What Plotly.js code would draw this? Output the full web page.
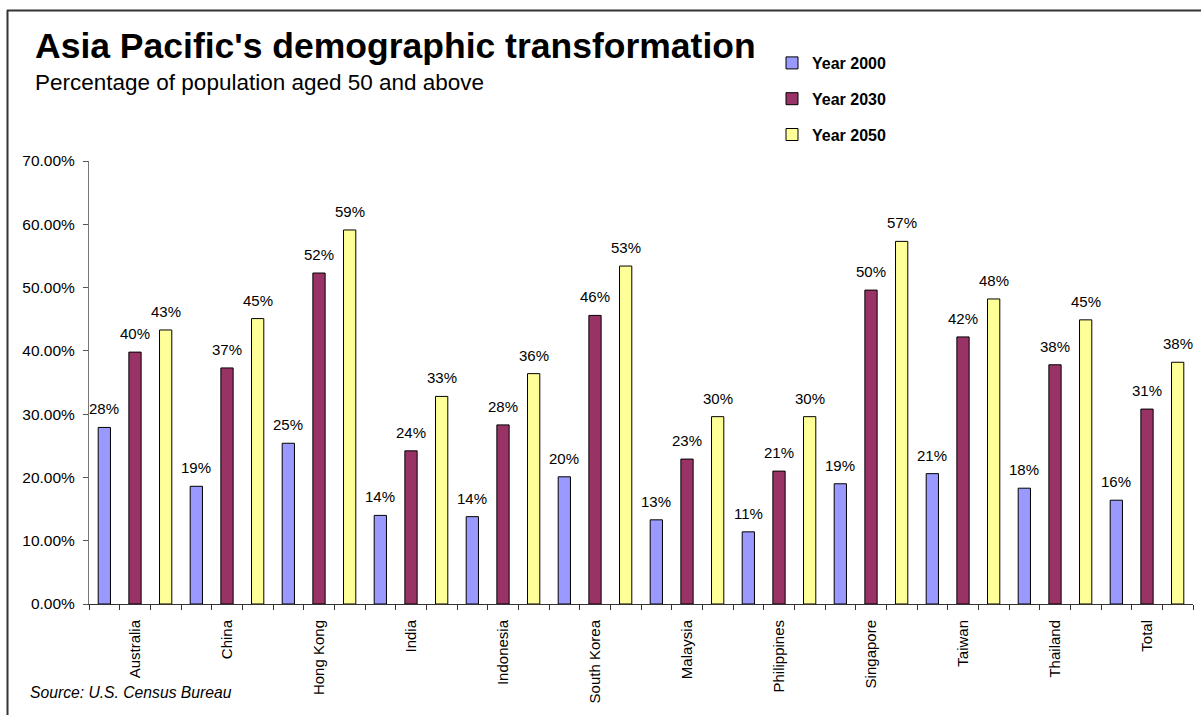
<!DOCTYPE html>
<html>
<head>
<meta charset="utf-8">
<script src="https://cdn.plot.ly/plotly-3.0.1.min.js"></script>
<style>
  html, body { margin: 0; padding: 0; background: #fff; }
  #chart { width: 1201px; height: 715px; }
</style>
</head>
<body>
<div id="chart"></div>
<script>
// ---- data ----
const countries = ["Australia", "China", "Hong Kong", "India", "Indonesia", "South Korea",
                   "Malaysia", "Philippines", "Singapore", "Taiwan", "Thailand", "Total"];
const year2000 = [0.279, 0.186, 0.254, 0.140, 0.138, 0.201, 0.133, 0.114, 0.190, 0.206, 0.183, 0.164];
const year2030 = [0.398, 0.373, 0.523, 0.242, 0.283, 0.456, 0.229, 0.210, 0.496, 0.422, 0.378, 0.308];
const year2050 = [0.433, 0.451, 0.591, 0.328, 0.364, 0.534, 0.296, 0.296, 0.573, 0.482, 0.449, 0.382];
const seriesNames = ["Year 2000", "Year 2030", "Year 2050"];
const yTicks = [0, 0.1, 0.2, 0.3, 0.4, 0.5, 0.6, 0.7];

// ---- styling ----
const FONT = "Liberation Sans, Arial, Helvetica, sans-serif";
const colors = ["#9999FF", "#993366", "#FFFF99"];
const seriesValues = [year2000, year2030, year2050];
const nSeries = seriesValues.length;

// each country occupies nSeries consecutive slots on a linear axis
const slotX = (i, k) => i * nSeries + k;

const traces = seriesValues.map((vals, k) => ({
  type: "bar",
  name: seriesNames[k],
  legendgroup: "g" + k,
  x: countries.map((_, i) => slotX(i, k)),
  y: vals,
  width: 0.4,
  marker: { color: colors[k], line: { color: "#000", width: 1 } },
  hoverinfo: "x+y"
}));

const pct = v => Math.round(v * 100) + "%";

const labelAnnotations = [];
seriesValues.forEach((vals, k) => {
  vals.forEach((v, i) => {
    labelAnnotations.push({
      x: slotX(i, k), y: v, xref: "x", yref: "y",
      text: pct(v), showarrow: false,
      xanchor: "center", yanchor: "bottom", yshift: 8,
      font: { family: FONT, size: 15, color: "#000" }
    });
  });
});

// plot area geometry in pixels (for paper-relative decorations)
const W = 1201, H = 715;
const M = { l: 89, r: 8, t: 161, b: 111, autoexpand: false };
const pw = W - M.l - M.r, ph = H - M.t - M.b;
const px = x => (x - M.l) / pw;
const py = y => (H - M.b - y) / ph;

const layout = {
  width: W, height: H,
  margin: M,
  paper_bgcolor: "#fff", plot_bgcolor: "#fff",
  font: { family: FONT, color: "#000" },
  bargap: 0,
  title: {
    text: "Asia Pacific's demographic transformation",
    font: { family: FONT, size: 35.5, weight: "bold", color: "#000" },
    xref: "container", yref: "container",
    x: 35 / W, xanchor: "left",
    y: 1 - 46 / H, yanchor: "middle"
  },
  showlegend: true,
  legend: {
    xref: "container", yref: "container",
    x: 772 / W, y: 1 - 46 / H, xanchor: "left", yanchor: "top",
    font: { family: FONT, size: 16, weight: "bold", color: "#000" },
    traceorder: "grouped",
    tracegroupgap: 12,
    bgcolor: "rgba(0,0,0,0)"
  },
  xaxis: {
    type: "linear",
    range: [-0.5, countries.length * nSeries - 0.5],
    tickmode: "array",
    tickvals: countries.map((_, i) => slotX(i, 1)),
    ticktext: countries,
    tickangle: -90,
    ticks: "",
    ticklabelstandoff: 9,
    tickfont: { family: FONT, size: 15, color: "#000" },
    minor: { tickmode: "linear", tick0: -0.5, dtick: 1, ticks: "outside", ticklen: 5, tickcolor: "#333", showgrid: false },
    showline: true, linecolor: "#333", linewidth: 1,
    showgrid: false, zeroline: false, fixedrange: true
  },
  yaxis: {
    range: [0, 0.7],
    tickmode: "array",
    tickvals: yTicks,
    tickformat: ".2%",
    ticks: "outside", ticklen: 5, tickcolor: "#555",
    ticklabelstandoff: 5,
    tickfont: { family: FONT, size: 15.5, color: "#000" },
    showline: true, linecolor: "#777", linewidth: 1,
    showgrid: false, zeroline: false, fixedrange: true
  },
  annotations: labelAnnotations.concat([
    {
      xref: "paper", yref: "paper", x: px(33), y: py(83),
      xanchor: "left", yanchor: "middle", showarrow: false,
      text: "Percentage of population aged 50 and above",
      font: { family: FONT, size: 22.5, color: "#000" }
    },
    {
      xref: "paper", yref: "paper", x: px(28), y: py(692),
      xanchor: "left", yanchor: "middle", showarrow: false,
      text: "<i>Source: U.S. Census Bureau</i>",
      font: { family: FONT, size: 15.7, color: "#000" }
    }
  ]),
  shapes: [
    { type: "line", xref: "paper", yref: "paper", x0: px(7), x1: px(1201), y0: py(10.5), y1: py(10.5),
      line: { color: "#333", width: 2 } },
    { type: "line", xref: "paper", yref: "paper", x0: px(7.5), x1: px(7.5), y0: py(10), y1: py(715),
      line: { color: "#333", width: 2 } }
  ]
};

Plotly.newPlot("chart", traces, layout, { displayModeBar: false, staticPlot: true });
</script>
</body>
</html>
